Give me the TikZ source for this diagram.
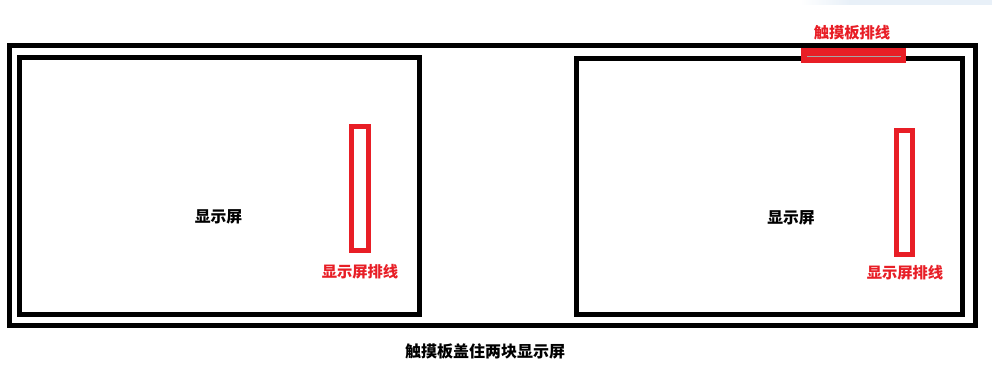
\documentclass[tikz,border=0pt]{standalone}
\usepackage{fontspec}
\newfontfamily\cjk{Noto Sans CJK SC}
\definecolor{fpcred}{RGB}{232,30,38}
\definecolor{bandblue}{RGB}{232,240,248}
\begin{document}
\begin{tikzpicture}[x=1pt,y=-1pt,
  frame/.style={draw=black,line width=5pt},
  fpc/.style={draw=fpcred,line width=5pt},
  lbl/.style={font=\cjk\bfseries\fontsize{15.8}{17}\selectfont,inner sep=0pt},
  redlbl/.style={lbl,font=\cjk\bfseries\fontsize{15.3}{17}\selectfont,text=fpcred}]
\useasboundingbox (0,0) rectangle (992,374);
\fill[white] (0,0) rectangle (992,374);
\shade[left color=white,right color=bandblue] (800,0) rectangle (850,5);
\fill[bandblue] (850,0) rectangle (992,5);
% outer touch panel
\draw[frame] (9.5,45.5) rectangle (975,325.5);
% two screens
\draw[frame] (19,57.5) rectangle (419.5,314.5);
\draw[frame] (576.5,59) rectangle (962,314.5);
% display FPCs
\draw[fpc] (351.5,126.5) rectangle (368.5,250.5);
\draw[fpc] (896.5,130.5) rectangle (912.5,254.5);
% touch FPC
\fill[fpcred] (801,48) rectangle (906,63);
\draw[gray!70,line width=0.8pt] (807,56) -- (901,56);
% labels
\node[lbl] (s1) at (218.5,217) {显示屏};
\node[lbl] (s2) at (791,218) {显示屏};
\node[redlbl] (f1) at (360,272) {显示屏排线};
\node[redlbl] (f2) at (905,273) {显示屏排线};
\node[redlbl] (t) at (852,33) {触摸板排线};
\node[lbl,font=\cjk\bfseries\fontsize{16}{18}\selectfont] (cap) at (485,351) {触摸板盖住两块显示屏};
\end{tikzpicture}
\end{document}
